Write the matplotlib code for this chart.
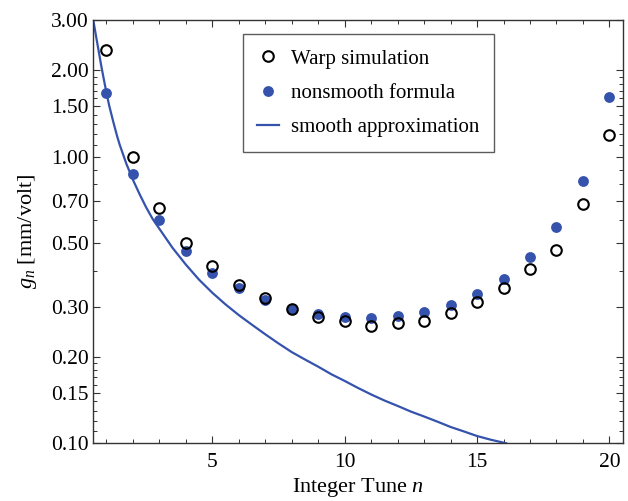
import matplotlib
matplotlib.use("Agg")
import matplotlib.pyplot as plt
from matplotlib.ticker import FixedLocator, NullFormatter

plt.rcParams['font.family'] = ['Liberation Serif', 'DejaVu Serif']
plt.rcParams['mathtext.fontset'] = 'custom'
plt.rcParams['mathtext.rm'] = 'Liberation Serif'
plt.rcParams['mathtext.it'] = 'Liberation Serif:italic'

# ---- data ----
n_vals = list(range(1, 21))
warp_sim = [2.36, 1.00, 0.66, 0.50, 0.415, 0.358, 0.321, 0.295, 0.275, 0.267,
            0.257, 0.263, 0.268, 0.284, 0.310, 0.349, 0.406, 0.472, 0.684, 1.19]
nonsmooth = [1.67, 0.87, 0.60, 0.47, 0.394, 0.348, 0.316, 0.295, 0.283, 0.275,
             0.273, 0.277, 0.286, 0.303, 0.331, 0.375, 0.446, 0.569, 0.825, 1.62]
smooth_x = [0.5, 0.6, 0.7, 0.8, 0.9, 1.0, 1.1, 1.25, 1.4, 1.5, 1.75, 2.0, 2.25, 2.5,
            2.75, 3.0, 3.5, 4.0, 4.5, 5.0, 5.5, 6.0, 6.5, 7.0, 7.5, 8.0, 8.5, 9.0,
            9.5, 10.0, 10.5, 11.0, 11.5, 12.0, 12.5, 13.0, 13.5, 14.0, 14.5, 15.0,
            15.5, 16.1]
smooth_y = [3.0, 2.65, 2.35, 2.08, 1.86, 1.67, 1.51, 1.33, 1.18, 1.10, 0.945, 0.83,
            0.74, 0.665, 0.605, 0.56, 0.48, 0.42, 0.372, 0.335, 0.305, 0.28, 0.259,
            0.240, 0.223, 0.208, 0.196, 0.185, 0.174, 0.165, 0.156, 0.148, 0.141,
            0.135, 0.129, 0.124, 0.119, 0.114, 0.110, 0.106, 0.103, 0.100]

y_major = [0.10, 0.15, 0.20, 0.30, 0.50, 0.70, 1.00, 1.50, 2.00, 3.00]
y_major_labels = ["0.10", "0.15", "0.20", "0.30", "0.50", "0.70", "1.00", "1.50", "2.00", "3.00"]
y_minor = [0.11, 0.12, 0.13, 0.14, 0.16, 0.17, 0.18, 0.19, 0.4, 0.6, 0.8, 0.9,
           1.1, 1.2, 1.3, 1.4, 1.6, 1.7, 1.8, 1.9]
x_major = [5, 10, 15, 20]
x_minor = [i for i in range(1, 21) if i not in (5, 10, 15, 20)]

blue = "#3553AD"

fig = plt.figure(figsize=(6.28, 5.01), dpi=100)
ax = fig.add_axes([0.1485, 0.1152, 0.843, 0.845])

ax.plot(smooth_x, smooth_y, color=blue, lw=1.6, label="smooth approximation", zorder=2)
ax.plot(n_vals, nonsmooth, linestyle="none", marker="o", ms=7.8, color=blue,
        markeredgewidth=0, label="nonsmooth formula", zorder=3)
ax.plot(n_vals, warp_sim, linestyle="none", marker="o", ms=7.6, fillstyle="none",
        markeredgecolor="black", markeredgewidth=1.5, label="Warp simulation", zorder=4)

ax.set_yscale("log")
ax.set_xlim(0.5, 20.5)
ax.set_ylim(0.10, 3.00)

ax.yaxis.set_major_locator(FixedLocator(y_major))
ax.set_yticklabels(y_major_labels)
ax.yaxis.set_minor_locator(FixedLocator(y_minor))
ax.yaxis.set_minor_formatter(NullFormatter())
ax.xaxis.set_major_locator(FixedLocator(x_major))
ax.xaxis.set_minor_locator(FixedLocator(x_minor))

ax.tick_params(which="both", direction="in", top=True, right=True, labelsize=15.5,
               color="#333333")
ax.tick_params(which="major", length=5, width=0.8)
ax.tick_params(axis="y", which="major", pad=3)
ax.tick_params(axis="x", which="major", pad=7)
ax.tick_params(which="minor", length=3, width=0.7)
for s in ax.spines.values():
    s.set_color("#333333")
    s.set_linewidth(1.0)

ax.set_xlabel("Integer Tune $n$", fontsize=16, labelpad=3)
ax.set_ylabel("$g_n$ [mm/volt]", fontsize=16, labelpad=9)

handles, labels = ax.get_legend_handles_labels()
order = [2, 1, 0]
leg = ax.legend([handles[i] for i in order], [labels[i] for i in order],
                loc="upper left", bbox_to_anchor=(0.282, 0.966), fontsize=15,
                frameon=True, fancybox=False, edgecolor="#333333", borderpad=0.7,
                labelspacing=0.71, handlelength=1.06, handletextpad=0.58,
                borderaxespad=0)
leg.get_frame().set_linewidth(1.0)

fig.savefig("out.png", dpi=100)
